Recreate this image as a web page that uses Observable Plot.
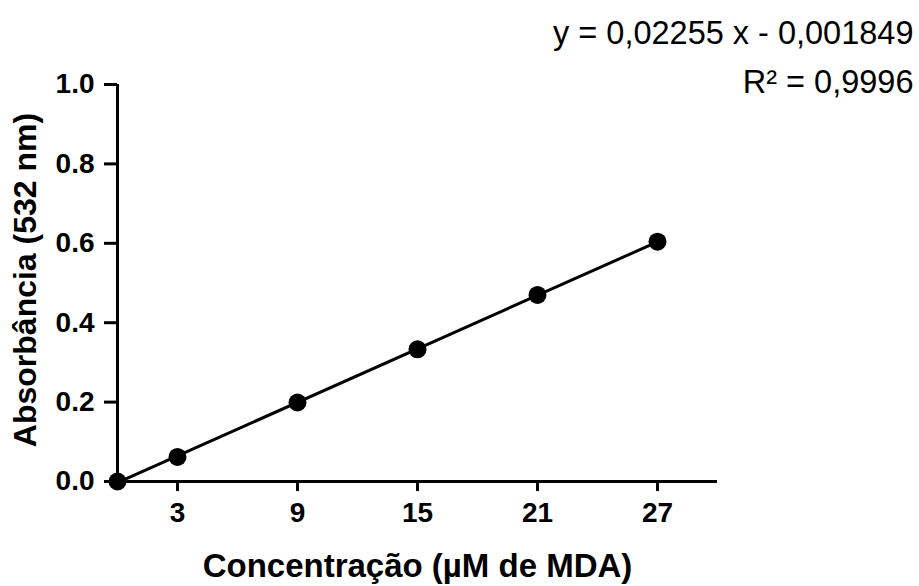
<!DOCTYPE html>
<html>
<head>
<meta charset="utf-8">
<script src="https://cdn.jsdelivr.net/npm/d3@7"></script>
<script src="https://cdn.jsdelivr.net/npm/@observablehq/plot@0.6"></script>
<style>
  html, body { margin: 0; padding: 0; background: #fff; }
  svg { font-family: "Liberation Sans", Arial, sans-serif; overflow: visible; }
  .bold text { font-weight: bold; }
</style>
</head>
<body>
<div id="chart"></div>
<script>
const concentracao = [0, 3, 9, 15, 21, 27];
const absorbancia = [0, 0.062, 0.199, 0.333, 0.470, 0.604];
const xTicks = [3, 9, 15, 21, 27];
const yTicks = [0, 0.2, 0.4, 0.6, 0.8, 1.0];
const xLabel = "Concentração (µM de MDA)";
const yLabel = "Absorbância (532 nm)";
const equationText = "y = 0,02255 x - 0,001849";
const r2Text = "R² = 0,9996";

const data = concentracao.map((c, i) => ({x: c, y: absorbancia[i]}));

const chart = Plot.plot({
  width: 919,
  height: 586,
  marginLeft: 117,
  marginRight: 202,
  marginTop: 84,
  marginBottom: 105,
  style: {fontFamily: '"Liberation Sans", Arial, sans-serif', color: "black", background: "white"},
  x: {domain: [0, 30], axis: null},
  y: {domain: [0, 1], axis: null},
  marks: [
    Plot.axisX({ticks: xTicks, tickSize: 10, tickPadding: 11, fontSize: 28, strokeWidth: 3, stroke: "black", fill: "black", label: null, className: "bold"}),
    Plot.axisY({ticks: yTicks, tickFormat: d3.format(".1f"), tickSize: 13, tickPadding: 10, fontSize: 28, strokeWidth: 3, stroke: "black", fill: "black", label: null, className: "bold"}),
    Plot.ruleX([0], {y1: 0, y2: 1, strokeWidth: 3, stroke: "black"}),
    Plot.ruleY([0], {x1: 0, x2: 30, strokeWidth: 3, stroke: "black"}),
    Plot.linearRegressionY(data, {x: "x", y: "y", ci: 0, stroke: "black", strokeWidth: 3}),
    Plot.dot(data, {x: "x", y: "y", r: 9, fill: "black"}),
    Plot.text([xLabel], {frameAnchor: "bottom", lineAnchor: "middle", dy: 85, fontSize: 33, fontWeight: "bold", fill: "black"}),
    Plot.text([yLabel], {frameAnchor: "left", lineAnchor: "middle", textAnchor: "middle", dx: -92, dy: -3, rotate: -90, fontSize: 32, fontWeight: "bold", fill: "black"}),
    Plot.text([equationText], {frameAnchor: "top-right", lineAnchor: "middle", textAnchor: "end", dx: 196, dy: -51, fontSize: 32.5, fill: "black"}),
    Plot.text([r2Text], {frameAnchor: "top-right", lineAnchor: "middle", textAnchor: "end", dx: 196, dy: -2, fontSize: 32.5, fill: "black"})
  ]
});
document.getElementById("chart").appendChild(chart);
</script>
</body>
</html>
